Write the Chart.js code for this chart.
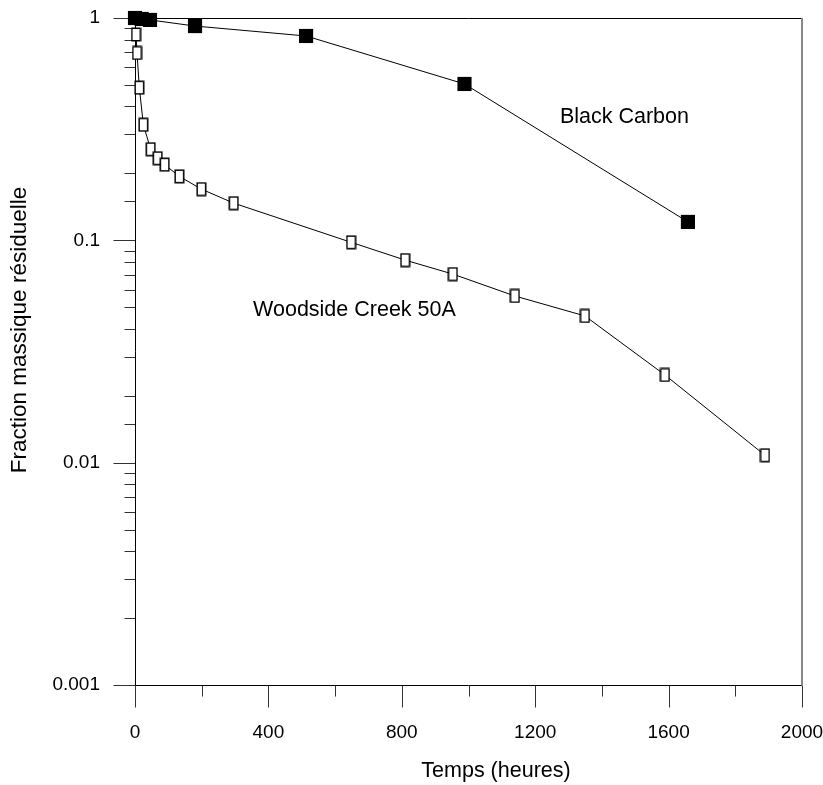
<!DOCTYPE html>
<html>
<head>
<meta charset="utf-8">
<script src="https://cdn.jsdelivr.net/npm/chart.js@4/dist/chart.umd.min.js"></script>
<style>
html, body { margin: 0; padding: 0; background: #fff; }
</style>
</head>
<body>
<canvas id="chart" width="823" height="785"></canvas>
<script>
"use strict";
/* data */
var carbonHours = [0, 20, 45, 180, 513, 988, 1658];
var carbonFraction = [1.0, 0.99, 0.98, 0.92, 0.83, 0.505, 0.121];
var creekHours = [3, 6, 13, 25, 47, 68, 89, 133, 199, 296, 648, 810, 953, 1139, 1349, 1589, 1889];
var creekFraction = [0.843, 0.696, 0.486, 0.331, 0.257, 0.234, 0.219, 0.194, 0.170, 0.147,
                     0.098, 0.0815, 0.0705, 0.0562, 0.0457, 0.0248, 0.0108];
var xTickLabels = [0, 400, 800, 1200, 1600, 2000];
var yTickLabels = [1, 0.1, 0.01, 0.001];
var seriesNames = ["Black Carbon", "Woodside Creek 50A"];

var FONT = "'Liberation Sans', Arial, Helvetica, sans-serif";

/* open rectangle marker used for the Woodside Creek points */
function openRect() {
    var c = document.createElement("canvas");
    c.width = 11;
    c.height = 15;
    var g = c.getContext("2d");
    g.fillStyle = "#fff";
    g.fillRect(1, 1, 9, 13);
    g.strokeStyle = "#000";
    g.lineWidth = 1.5;
    g.strokeRect(1.25, 1.25, 8.5, 12.5);
    return c;
}

function isLabel(v, list) {
    for (var i = 0; i < list.length; i++) {
        if (list[i] === 0 ? v === 0 : Math.abs(v / list[i] - 1) < 1e-6) {
            return true;
        }
    }
    return false;
}

function pts(xs, ys) {
    var out = [];
    for (var i = 0; i < xs.length; i++) {
        out.push({x: xs[i], y: ys[i]});
    }
    return out;
}

/* keep the plot box fixed: no extra room for overhanging labels */
function fixBox(size) {
    return function (s) {
        if (s.isHorizontal()) {
            s.height = size;
        } else {
            s.width = size;
        }
        s.paddingTop = 0;
        s.paddingBottom = 0;
        s.paddingLeft = 0;
        s.paddingRight = 0;
    };
}

/* axes frame, tick marks, titles and the two series labels */
var framePlugin = {
    id: "frame",
    beforeDatasetsDraw: function (chart) {
        var ctx = chart.ctx;
        var a = chart.chartArea;
        var xs = chart.scales.x;
        var ys = chart.scales.y;
        var L = Math.round(a.left) + 0.5;
        var B = Math.round(a.bottom) + 0.5;
        ctx.save();
        ctx.lineWidth = 1;
        ctx.strokeStyle = "#333";
        ys.ticks.forEach(function (t) {
            var y = Math.round(ys.getPixelForValue(t.value)) + 0.5;
            var len = isLabel(t.value, yTickLabels) ? 22 : 11;
            ctx.beginPath();
            ctx.moveTo(L - len, y);
            ctx.lineTo(L, y);
            ctx.stroke();
        });
        xs.ticks.forEach(function (t) {
            var x = Math.round(xs.getPixelForValue(t.value)) + 0.5;
            var len = isLabel(t.value, xTickLabels) ? 22 : 11;
            ctx.beginPath();
            ctx.moveTo(x, B);
            ctx.lineTo(x, B + len);
            ctx.stroke();
        });
        /* frame */
        ctx.strokeStyle = "#000";
        ctx.beginPath();
        ctx.moveTo(L, Math.round(a.top) + 0.5);
        ctx.lineTo(Math.round(a.right), Math.round(a.top) + 0.5);
        ctx.moveTo(L, Math.round(a.top));
        ctx.lineTo(L, B);
        ctx.lineTo(Math.round(a.right), B);
        ctx.stroke();
        ctx.strokeStyle = "#888";
        ctx.lineWidth = 2;
        ctx.beginPath();
        ctx.moveTo(Math.round(a.right), Math.round(a.top));
        ctx.lineTo(Math.round(a.right), B);
        ctx.stroke();
        ctx.restore();
    },
    afterDraw: function (chart) {
        var ctx = chart.ctx;
        var xs = chart.scales.x;
        var ys = chart.scales.y;
        ctx.save();
        ctx.fillStyle = "#000";
        ctx.font = "21.5px " + FONT;
        ctx.textAlign = "left";
        ctx.textBaseline = "middle";
        ctx.fillText(seriesNames[0], xs.getPixelForValue(1274), ys.getPixelForValue(0.359));
        ctx.fillText(seriesNames[1], xs.getPixelForValue(354), ys.getPixelForValue(0.0486));
        /* axis titles */
        ctx.textAlign = "center";
        ctx.fillText("Temps (heures)", 496, 771);
        ctx.font = "22.5px " + FONT;
        ctx.translate(20, 330);
        ctx.rotate(-Math.PI / 2);
        ctx.fillText("Fraction massique résiduelle", 0, 0);
        ctx.restore();
    }
};

var ctx = document.getElementById("chart");
var chart = new Chart(ctx, {
    type: "scatter",
    data: {
        datasets: [{
            label: seriesNames[1],
            data: pts(creekHours, creekFraction),
            showLine: true,
            borderColor: "#000",
            borderWidth: 1,
            pointStyle: openRect(),
            pointRadius: 7,
            clip: false
        }, {
            label: seriesNames[0],
            data: pts(carbonHours, carbonFraction),
            showLine: true,
            borderColor: "#000",
            borderWidth: 1,
            backgroundColor: "#000",
            pointStyle: "rect",
            pointRadius: 10,
            pointBorderWidth: 0,
            clip: false
        }]
    },
    options: {
        responsive: false,
        animation: false,
        layout: {padding: {top: 18, right: 21, left: 0, bottom: 0}},
        plugins: {
            legend: {display: false},
            tooltip: {enabled: false}
        },
        scales: {
            x: {
                type: "linear",
                min: 0,
                max: 2000,
                grid: {display: false, drawTicks: false},
                border: {display: false},
                ticks: {
                    stepSize: 200,
                    autoSkip: false,
                    maxRotation: 0,
                    padding: 36,
                    color: "#000",
                    font: {family: FONT, size: 19},
                    callback: function (v) {
                        return isLabel(v, xTickLabels) ? String(v) : "";
                    }
                },
                afterFit: fixBox(100)
            },
            y: {
                type: "logarithmic",
                min: 0.001,
                max: 1,
                grid: {display: false, drawTicks: false},
                border: {display: false},
                ticks: {
                    autoSkip: false,
                    padding: 35,
                    color: "#000",
                    font: {family: FONT, size: 19},
                    callback: function (v) {
                        for (var i = 0; i < yTickLabels.length; i++) {
                            if (Math.abs(v / yTickLabels[i] - 1) < 1e-6) {
                                return String(yTickLabels[i]);
                            }
                        }
                        return "";
                    }
                },
                afterFit: fixBox(135)
            }
        }
    },
    plugins: [framePlugin]
});
</script>
</body>
</html>
